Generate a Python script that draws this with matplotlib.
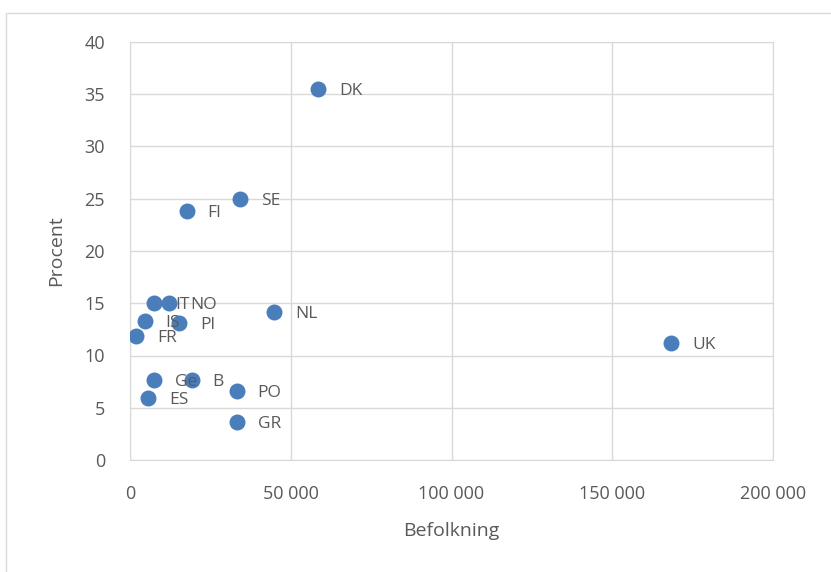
import matplotlib.pyplot as plt
from matplotlib.patches import Rectangle
from matplotlib.ticker import FuncFormatter

# data
countries = ['DK', 'SE', 'FI', 'IT', 'NO', 'IS', 'Pl', 'FR', 'NL',
             'Ge', 'B', 'ES', 'PO', 'GR', 'UK']
befolkning = [58500, 34200, 17700, 7600, 12200, 4600, 15300, 1900, 44800,
              7500, 19200, 5600, 33200, 33200, 168300]
procent = [35.5, 25.0, 23.8, 15.0, 15.0, 13.3, 13.1, 11.9, 14.2,
           7.7, 7.7, 5.9, 6.6, 3.6, 11.2]

xticks = [0, 50000, 100000, 150000, 200000]
yticks = [0, 5, 10, 15, 20, 25, 30, 35, 40]

plt.rcParams['font.family'] = ['Open Sans', 'DejaVu Sans']
txt = '#595959'
grid = '#d9d9d9'

fig = plt.figure(figsize=(8.31, 5.72), dpi=100)
# chart area border
fig.patches.append(Rectangle((6 / 831, -0.1), 1.2, 1.1 - 13 / 572,
                             transform=fig.transFigure, fill=False,
                             edgecolor=grid, linewidth=1))

ax = fig.add_axes([130 / 831, 1 - 460 / 572, 643 / 831, 418 / 572])
ax.scatter(befolkning, procent, s=110, color='#4a7ebb', zorder=3)
for name, x, y in zip(countries, befolkning, procent):
    ax.annotate(name, (x, y), xytext=(15, -1.5), textcoords='offset points',
                ha='left', va='center', fontsize=12.5, color=txt, zorder=4)

ax.set_xlim(0, 200000)
ax.set_ylim(0, 40)
ax.set_xticks(xticks)
ax.set_yticks(yticks)
ax.xaxis.set_major_formatter(FuncFormatter(lambda v, p: f'{int(v):,}'.replace(',', ' ')))
ax.grid(True, color=grid, linewidth=1)
ax.set_axisbelow(True)
for s in ax.spines.values():
    s.set_color(grid)
ax.tick_params(length=0, labelsize=13, labelcolor=txt)
ax.tick_params(axis='x', pad=18)
ax.tick_params(axis='y', pad=18)
ax.set_xlabel('Befolkning', fontsize=14, color=txt, labelpad=14)
ax.set_ylabel('Procent', fontsize=14, color=txt, labelpad=14)

fig.savefig('out.png', dpi=100)
